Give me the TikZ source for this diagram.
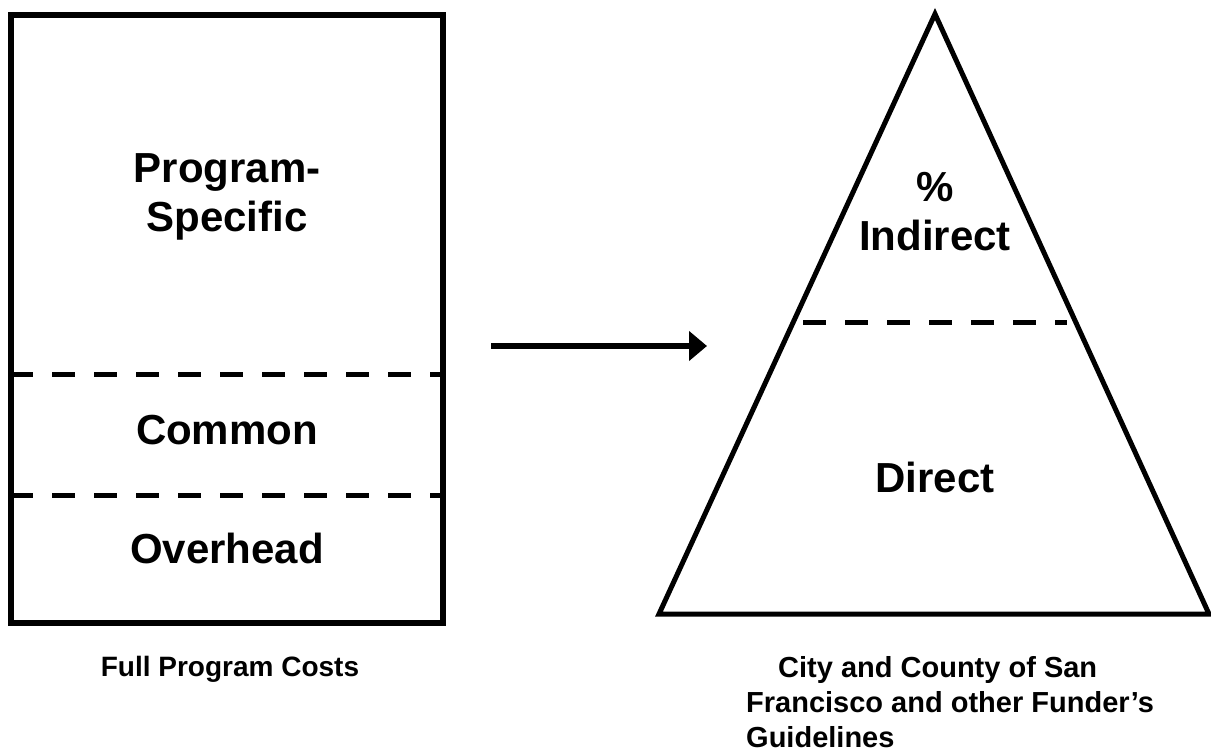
\documentclass[tikz,border=0pt]{standalone}
\usepackage{fontspec}
\setmainfont{Liberation Sans}
\usepackage{tikz}
\usetikzlibrary{arrows.meta,positioning}

\begin{document}
\begin{tikzpicture}[x=1pt,y=-1pt,>=Stealth,
    big/.style={font=\fontsize{42}{49}\selectfont\bfseries,align=center,inner sep=0pt},
    small/.style={font=\fontsize{28}{35}\selectfont\bfseries,inner sep=0pt},
    cut/.style={line width=5pt,dash pattern=on 23pt off 19pt}]
    \useasboundingbox (0,0) rectangle (1211,752);
    % ---------- LEFT: full program costs ----------
    \begin{scope}
      \draw[line width=6pt] (11,15) rectangle (443,623);
      \draw[cut] (10,374)--(443,374);
      \draw[cut] (10,495)--(443,495);
      \node[big] (progspec) at (227,197) {Program-\\Specific};
      \node[big,anchor=base] (common) at (227,444) {Common};
      \node[big,anchor=base] (overhead) at (227,563) {Overhead};
      \node[small,anchor=base] (fullcap) at (230,676) {Full Program Costs};
    \end{scope}
    % ---------- ARROW ----------
    \coordinate (arrfrom) at (491,346);
    \coordinate (arrto) at (707,346);
    \draw[line width=6pt,-{Triangle[length=18pt,width=29pt]}] (arrfrom)--(arrto);
    % ---------- RIGHT: funder's guidelines ----------
    \begin{scope}
      \coordinate (apex) at (935,14);
      \coordinate (baseL) at (659,614);
      \coordinate (baseR) at (1209,614);
      \draw[line width=5pt] (apex)--(baseR)--(baseL)--cycle;
      \draw[cut] (803,322)--(1067,322);
      \node[big] (indirect) at (935,212) {\%\\Indirect};
      \node[big,anchor=base] (direct) at (935,492) {Direct};
      \node[small,font=\fontsize{29}{35}\selectfont\bfseries,align=left,anchor=north west] (fundcap) at (746,656)
        {\hspace*{32pt}City and County of San\\Francisco and other Funder’s\\Guidelines};
    \end{scope}
\end{tikzpicture}
\end{document}
